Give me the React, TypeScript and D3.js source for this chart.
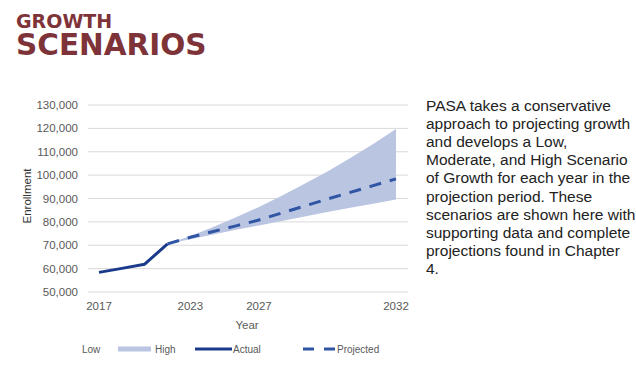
import React from "react";
import * as d3 from "d3";

const tickLabels = ["2017", "2023", "2027", "2032"];
const tickIndex = [0, 4, 7, 13];
const yTicks = [50000, 60000, 70000, 80000, 90000, 100000, 110000, 120000, 130000];

const actualIdx = [0, 1, 2, 3];
const actual = [58400, 60100, 61900, 70600];

const projIdx = [3, 4, 5, 6, 7, 8, 9, 10, 11, 12, 13];
const projected = [70600, 73400, 75900, 78300, 80800, 83800, 86800, 89800, 92600, 95500, 98400];
const high = [70600, 74000, 77800, 82000, 86400, 91200, 96300, 101600, 107300, 113300, 119700];
const low = [70600, 72600, 74600, 76600, 78500, 80400, 82300, 84200, 86000, 87800, 89600];

const paragraph = [
  "PASA takes a conservative",
  "approach to projecting growth",
  "and develops a Low,",
  "Moderate, and High Scenario",
  "of Growth for each year in the",
  "projection period. These",
  "scenarios are shown here with",
  "supporting data and complete",
  "projections found in Chapter",
  "4.",
];

const W = 636;
const H = 377;
const gridLeft = 88;
const gridRight = 408;

const x = d3.scaleLinear().domain([0, 13]).range([99, 396]);
const y = d3.scaleLinear().domain([50000, 130000]).range([292, 105]);

const FONT = "'Liberation Sans', Arial, sans-serif";
const GRAY = "#595959";
const TITLE = "#7e3339";

export default function App() {
  const actualPath = d3
    .line<number>()
    .x((_, i) => x(actualIdx[i]))
    .y((d) => y(d))(actual) as string;
  const projPath = d3
    .line<number>()
    .x((_, i) => x(projIdx[i]))
    .y((d) => y(d))(projected) as string;
  const bandPath = d3
    .area<number>()
    .x((_, i) => x(projIdx[i]))
    .y0((_, i) => y(low[i]))
    .y1((d) => y(d))(high) as string;

  return (
    <svg
      width={W}
      height={H}
      style={{ position: "absolute", left: 0, top: 0, background: "#fff" }}
    >
      <text
        x={16}
        y={27.5}
        fill={TITLE}
        fontFamily="'DejaVu Sans', sans-serif"
        fontWeight={700}
        fontSize={19}
      >
        GROWTH
      </text>
      <text
        x={16}
        y={55}
        fill={TITLE}
        fontFamily="'DejaVu Sans', sans-serif"
        fontWeight={700}
        fontSize={29.5}
      >
        SCENARIOS
      </text>

      {yTicks.map((t) => (
        <g key={t}>
          <line
            x1={gridLeft}
            x2={gridRight}
            y1={y(t)}
            y2={y(t)}
            stroke="#d9d9d9"
            strokeWidth={1}
          />
          <text
            x={78}
            y={y(t)}
            dy="0.35em"
            textAnchor="end"
            fontFamily={FONT}
            fontSize={11.5}
            fill={GRAY}
          >
            {d3.format(",")(t)}
          </text>
        </g>
      ))}

      {tickIndex.map((ti, i) => (
        <text
          key={ti}
          x={x(ti)}
          y={306}
          dy="0.35em"
          textAnchor="middle"
          fontFamily={FONT}
          fontSize={11.5}
          fill={GRAY}
        >
          {tickLabels[i]}
        </text>
      ))}

      <text
        x={247}
        y={325}
        dy="0.35em"
        textAnchor="middle"
        fontFamily={FONT}
        fontSize={11.5}
        fill={GRAY}
      >
        Year
      </text>
      <text
        transform={`translate(27,196) rotate(-90)`}
        dy="0.35em"
        textAnchor="middle"
        fontFamily={FONT}
        fontSize={11.5}
        fill="#333"
      >
        Enrollment
      </text>

      <path d={bandPath} fill="#bac5e1" />
      <path d={actualPath} fill="none" stroke="#1b3a8c" strokeWidth={3} strokeLinejoin="round" />
      <path
        d={projPath}
        fill="none"
        stroke="#2f55a4"
        strokeWidth={3}
        strokeDasharray="12,9"
      />

      {/* legend */}
      <g fontFamily={FONT} fontSize={10} fill={GRAY}>
        <text x={82} y={349} dy="0.35em">Low</text>
        <rect x={118} y={346.5} width={33} height={5} fill="#bac5e1" />
        <text x={155} y={349} dy="0.35em">High</text>
        <line x1={195} x2={232} y1={349} y2={349} stroke="#1b3a8c" strokeWidth={3} />
        <text x={233} y={349} dy="0.35em">Actual</text>
        <line
          x1={303}
          x2={335}
          y1={349}
          y2={349}
          stroke="#2f55a4"
          strokeWidth={3}
          strokeDasharray="11,10"
        />
        <text x={337} y={349} dy="0.35em">Projected</text>
      </g>

      <g fontFamily={FONT} fontSize={15.5} fill="#222">
        {paragraph.map((l, i) => (
          <text key={i} x={426} y={111 + i * 18.1}>
            {l}
          </text>
        ))}
      </g>
    </svg>
  );
}
